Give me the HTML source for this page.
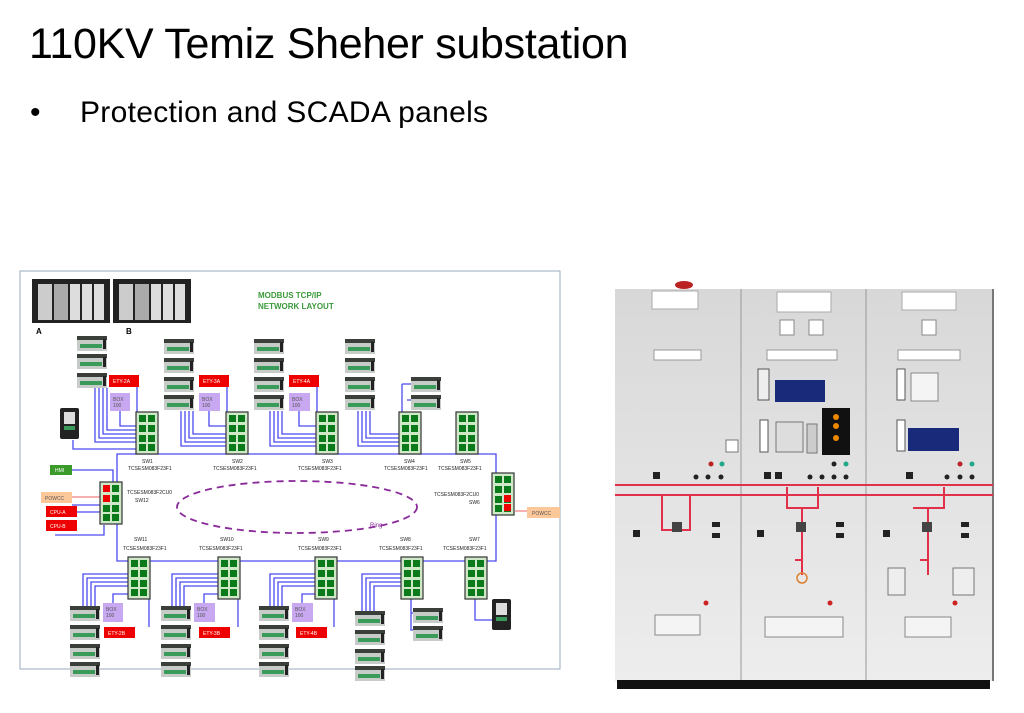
<!DOCTYPE html>
<html><head><meta charset="utf-8"><style>
html,body{margin:0;padding:0;background:#fff;width:1024px;height:713px;overflow:hidden}
.t{position:absolute;font-family:"Liberation Sans",sans-serif;color:#000;white-space:nowrap}
</style></head><body>
<div class="t" style="left:29px;top:20px;font-size:43px;letter-spacing:-0.3px">110KV Temiz Sheher substation</div>
<div class="t" style="left:30px;top:96px;font-size:30px">•</div>
<div class="t" style="left:80px;top:96px;font-size:30px;letter-spacing:0.3px">Protection and SCADA panels</div>
<svg style="position:absolute;left:0;top:0" width="1024" height="713" font-family="Liberation Sans, sans-serif">
<defs>
<linearGradient id="pg" x1="0" y1="0" x2="0" y2="1"><stop offset="0" stop-color="#d8d8d8"/><stop offset="1" stop-color="#ededed"/></linearGradient>
<g id="m"><rect x="0" y="0" width="30" height="15" fill="#c8ccc8"/><rect x="0" y="0" width="30" height="4" fill="#3a3f3a"/><rect x="3" y="8" width="22" height="4" fill="#3a9a5a"/><rect x="26" y="3" width="3" height="10" fill="#222"/></g>
<g id="sw"><rect x="0" y="0" width="22" height="42" fill="#cfe8c8" stroke="#333" stroke-width="1.2"/>
<rect x="3" y="3" width="7" height="7" fill="#0a7a1a"/><rect x="12" y="3" width="7" height="7" fill="#0a7a1a"/>
<rect x="3" y="13" width="7" height="7" fill="#0a7a1a"/><rect x="12" y="13" width="7" height="7" fill="#0a7a1a"/>
<rect x="3" y="23" width="7" height="7" fill="#0a7a1a"/><rect x="12" y="23" width="7" height="7" fill="#0a7a1a"/>
<rect x="3" y="32" width="7" height="7" fill="#0a7a1a"/><rect x="12" y="32" width="7" height="7" fill="#0a7a1a"/></g>
<g id="rack"><rect width="78" height="44" fill="#222"/><rect x="6" y="5" width="14" height="36" fill="#ccc"/><rect x="22" y="5" width="14" height="36" fill="#aaa"/><rect x="38" y="5" width="10" height="36" fill="#ddd"/><rect x="50" y="5" width="10" height="36" fill="#ddd"/><rect x="62" y="5" width="10" height="36" fill="#ddd"/></g>
<g id="drv"><rect width="19" height="31" rx="2" fill="#222"/><rect x="4" y="4" width="11" height="12" fill="#ddd"/><rect x="4" y="18" width="11" height="4" fill="#3a9a5a"/></g>
</defs>
<rect x="20" y="271" width="540" height="398" fill="#fff" stroke="#9ab" stroke-width="1"/>
<use href="#rack" x="32" y="279"/><use href="#rack" x="113" y="279"/>
<text x="258" y="298" font-size="8" font-weight="bold" fill="#3a9a3a">MODBUS TCP/IP</text>
<text x="258" y="309" font-size="8" font-weight="bold" fill="#3a9a3a">NETWORK LAYOUT</text>
<text x="36" y="334" font-size="8" font-weight="bold">A</text><text x="126" y="334" font-size="8" font-weight="bold">B</text>
<g stroke="#4a4af0" stroke-width="1.3" fill="none">
<path d="M117,454 H496 V561 H117 Z"/>
<path d="M95,388 V442 H136 M99,388 V438 H136 M103,388 V434 H136 M107,388 V430 H136 M73,440 V449 H136 M120,411 V426 H136 M137,387 V418"/>
<path d="M181,411 V446 H226 M185,411 V442 H226 M189,411 V438 H226 M193,411 V434 H226 M209,411 V426 H226 M227,387 V418"/>
<path d="M270,411 V446 H316 M274,411 V442 H316 M278,411 V438 H316 M282,411 V434 H316 M299,411 V426 H316 M317,387 V418"/>
<path d="M358,411 V446 H399 M362,411 V442 H399 M366,411 V438 H399 M370,411 V434 H399 M402,384 V418 M407,400 H411 M402,384 H411"/>
<path d="M72,470 H113 V482 M72,505 H100 M72,512 H100 M55,535 H104 V525"/>
<path d="M129,574 H83 V611 M129,578 H87 V611 M129,582 H91 V611 M129,586 H95 V611 M129,594 H113 V603 M149,590 V627"/>
<path d="M218,574 H172 V611 M218,578 H176 V611 M218,582 H180 V611 M218,586 H184 V611 M218,594 H204 V603 M238,590 V627"/>
<path d="M315,574 H270 V611 M315,578 H274 V611 M315,582 H278 V611 M315,586 H282 V611 M315,594 H302 V603 M334,590 V627"/>
<path d="M401,574 H362 V615 M401,578 H366 V615 M401,582 H370 V615 M401,586 H374 V615 M411,598 V630 H413 M411,613 H413"/>
<path d="M475,598 V620 H492"/>
</g>
<path d="M72,497 H100 M515,511 H527" stroke="#f08080" stroke-width="1.3"/>
<ellipse cx="297" cy="507" rx="120" ry="26" fill="none" stroke="#8a2a9a" stroke-width="1.8" stroke-dasharray="7,5"/>
<text x="370" y="527" font-size="6" fill="#8a2a9a">Ring</text>
<use href="#sw" x="136" y="412"/><use href="#sw" x="226" y="412"/><use href="#sw" x="316" y="412"/><use href="#sw" x="399" y="412"/><use href="#sw" x="456" y="412"/>
<use href="#sw" x="128" y="557"/><use href="#sw" x="218" y="557"/><use href="#sw" x="315" y="557"/><use href="#sw" x="401" y="557"/><use href="#sw" x="465" y="557"/>
<use href="#sw" x="100" y="482"/><use href="#sw" x="492" y="473"/>
<rect x="103" y="485" width="7" height="7" fill="#e00"/><rect x="103" y="495" width="7" height="7" fill="#e00"/>
<rect x="504" y="495" width="7" height="7" fill="#e00"/><rect x="504" y="504" width="7" height="7" fill="#e00"/>
<g font-size="5" fill="#222">
<text x="142" y="463">SW1</text><text x="128" y="470">TCSESM083F23F1</text>
<text x="232" y="463">SW2</text><text x="213" y="470">TCSESM083F23F1</text>
<text x="322" y="463">SW3</text><text x="298" y="470">TCSESM083F23F1</text>
<text x="404" y="463">SW4</text><text x="384" y="470">TCSESM083F23F1</text>
<text x="460" y="463">SW5</text><text x="438" y="470">TCSESM083F23F1</text>
<text x="127" y="494">TCSESM083F2CU0</text><text x="135" y="502">SW12</text>
<text x="434" y="496">TCSESM083F2CU0</text><text x="469" y="504">SW6</text>
<text x="134" y="541">SW11</text><text x="123" y="550">TCSESM083F23F1</text>
<text x="220" y="541">SW10</text><text x="199" y="550">TCSESM083F23F1</text>
<text x="318" y="541">SW9</text><text x="298" y="550">TCSESM083F23F1</text>
<text x="400" y="541">SW8</text><text x="379" y="550">TCSESM083F23F1</text>
<text x="469" y="541">SW7</text><text x="443" y="550">TCSESM083F23F1</text>
</g>
<g>
<use href="#m" x="77" y="336"/><use href="#m" x="77" y="354"/><use href="#m" x="77" y="373"/>
<use href="#m" x="164" y="339"/><use href="#m" x="164" y="358"/><use href="#m" x="164" y="377"/><use href="#m" x="164" y="395"/>
<use href="#m" x="254" y="339"/><use href="#m" x="254" y="358"/><use href="#m" x="254" y="377"/><use href="#m" x="254" y="395"/>
<use href="#m" x="345" y="339"/><use href="#m" x="345" y="358"/><use href="#m" x="345" y="377"/><use href="#m" x="345" y="395"/>
<use href="#m" x="411" y="377"/><use href="#m" x="411" y="395"/>
<use href="#m" x="70" y="606"/><use href="#m" x="70" y="625"/><use href="#m" x="70" y="644"/><use href="#m" x="70" y="662"/>
<use href="#m" x="161" y="606"/><use href="#m" x="161" y="625"/><use href="#m" x="161" y="644"/><use href="#m" x="161" y="662"/>
<use href="#m" x="259" y="606"/><use href="#m" x="259" y="625"/><use href="#m" x="259" y="644"/><use href="#m" x="259" y="662"/>
<use href="#m" x="355" y="611"/><use href="#m" x="355" y="630"/><use href="#m" x="355" y="649"/><use href="#m" x="355" y="666"/>
<use href="#m" x="413" y="608"/><use href="#m" x="413" y="626"/>
<use href="#drv" x="60" y="408"/><use href="#drv" x="492" y="599"/>
</g>
<g font-size="5" fill="#fff">
<rect x="109" y="375" width="30" height="12" fill="#e00"/><text x="113" y="383">ETY-2A</text>
<rect x="199" y="375" width="30" height="12" fill="#e00"/><text x="203" y="383">ETY-3A</text>
<rect x="289" y="375" width="30" height="12" fill="#e00"/><text x="293" y="383">ETY-4A</text>
<rect x="104" y="627" width="31" height="11" fill="#e00"/><text x="108" y="635">ETY-2B</text>
<rect x="199" y="627" width="31" height="11" fill="#e00"/><text x="203" y="635">ETY-3B</text>
<rect x="296" y="627" width="31" height="11" fill="#e00"/><text x="300" y="635">ETY-4B</text>
<rect x="46" y="506" width="31" height="11" fill="#e00"/><text x="50" y="514">CPU-A</text>
<rect x="46" y="520" width="31" height="11" fill="#e00"/><text x="50" y="528">CPU-B</text>
<rect x="50" y="465" width="22" height="10" fill="#3a9a2a"/><text x="55" y="472">HMI</text>
</g>
<g font-size="5" fill="#555">
<rect x="110" y="393" width="20" height="18" fill="#c8a8f0"/><text x="113" y="401">BOX</text><text x="113" y="407">100</text>
<rect x="199" y="393" width="21" height="18" fill="#c8a8f0"/><text x="202" y="401">BOX</text><text x="202" y="407">100</text>
<rect x="289" y="393" width="21" height="18" fill="#c8a8f0"/><text x="292" y="401">BOX</text><text x="292" y="407">100</text>
<rect x="103" y="603" width="20" height="19" fill="#c8a8f0"/><text x="106" y="611">BOX</text><text x="106" y="617">100</text>
<rect x="194" y="603" width="21" height="19" fill="#c8a8f0"/><text x="197" y="611">BOX</text><text x="197" y="617">100</text>
<rect x="292" y="603" width="21" height="19" fill="#c8a8f0"/><text x="295" y="611">BOX</text><text x="295" y="617">100</text>
<rect x="41" y="492" width="31" height="11" fill="#fcc89a"/><text x="45" y="500">POWCC</text>
<rect x="527" y="507" width="33" height="11" fill="#fcc89a"/><text x="532" y="515">POWCC</text>
</g>
<g>
<rect x="615" y="289" width="378" height="392" fill="url(#pg)"/>
<line x1="741" y1="289" x2="741" y2="681" stroke="#999"/><line x1="866" y1="289" x2="866" y2="681" stroke="#999"/>
<line x1="993" y1="289" x2="993" y2="681" stroke="#777" stroke-width="2"/>
<rect x="617" y="680" width="373" height="9" fill="#111"/>
<ellipse cx="684" cy="285" rx="9" ry="4" fill="#b22"/>
<rect x="652" y="291" width="46" height="18" fill="#fff" stroke="#aaa"/>
<rect x="777" y="292" width="54" height="20" fill="#fff" stroke="#aaa"/>
<rect x="902" y="292" width="54" height="18" fill="#fff" stroke="#aaa"/>
<rect x="654" y="350" width="47" height="10" fill="#fff" stroke="#999"/>
<rect x="767" y="350" width="70" height="10" fill="#fff" stroke="#999"/>
<rect x="898" y="350" width="62" height="10" fill="#fff" stroke="#999"/>
<rect x="780" y="320" width="14" height="15" fill="#fff" stroke="#888"/><rect x="809" y="320" width="14" height="15" fill="#fff" stroke="#888"/>
<rect x="922" y="320" width="14" height="15" fill="#fff" stroke="#888"/>
<rect x="758" y="369" width="11" height="31" fill="#eee" stroke="#555"/>
<rect x="775" y="380" width="50" height="22" fill="#1a2a7a"/>
<rect x="897" y="369" width="8" height="31" fill="#fff" stroke="#555"/>
<rect x="911" y="373" width="27" height="28" fill="#f4f4f4" stroke="#888"/>
<rect x="897" y="420" width="8" height="31" fill="#fff" stroke="#555"/>
<rect x="908" y="428" width="51" height="23" fill="#1a2a7a"/>
<rect x="760" y="420" width="8" height="32" fill="#fff" stroke="#555"/>
<rect x="776" y="422" width="27" height="30" fill="#ddd" stroke="#777"/>
<rect x="807" y="424" width="10" height="29" fill="#ccc" stroke="#777"/>
<rect x="822" y="408" width="28" height="47" fill="#111"/>
<circle cx="836" cy="417" r="3" fill="#e80"/><circle cx="836" cy="426" r="3" fill="#e80"/><circle cx="836" cy="438" r="3" fill="#e80"/>
<rect x="726" y="440" width="12" height="12" fill="#fff" stroke="#777"/>
<g fill="#222">
<circle cx="711" cy="464" r="2.5" fill="#b22"/><circle cx="722" cy="464" r="2.5" fill="#2a8"/>
<circle cx="696" cy="477" r="2.5"/><circle cx="708" cy="477" r="2.5"/><circle cx="721" cy="477" r="2.5"/>
<circle cx="834" cy="464" r="2.5"/><circle cx="846" cy="464" r="2.5" fill="#2a8"/>
<circle cx="810" cy="477" r="2.5"/><circle cx="822" cy="477" r="2.5"/><circle cx="834" cy="477" r="2.5"/><circle cx="846" cy="477" r="2.5"/>
<circle cx="960" cy="464" r="2.5" fill="#b22"/><circle cx="972" cy="464" r="2.5" fill="#2a8"/>
<circle cx="947" cy="477" r="2.5"/><circle cx="960" cy="477" r="2.5"/><circle cx="972" cy="477" r="2.5"/>
<rect x="653" y="472" width="7" height="7"/><rect x="764" y="472" width="7" height="7"/><rect x="775" y="472" width="7" height="7"/><rect x="906" y="472" width="7" height="7"/>
<rect x="633" y="530" width="7" height="7"/><rect x="757" y="530" width="7" height="7"/><rect x="883" y="530" width="7" height="7"/>
<rect x="712" y="522" width="8" height="5"/><rect x="712" y="533" width="8" height="5"/>
<rect x="836" y="522" width="8" height="5"/><rect x="836" y="533" width="8" height="5"/>
<rect x="961" y="522" width="8" height="5"/><rect x="961" y="533" width="8" height="5"/>
</g>
<g stroke="#e0304a" stroke-width="2" fill="none">
<line x1="615" y1="485" x2="993" y2="485"/><line x1="615" y1="495" x2="993" y2="495"/>
<path d="M662,495 V530 H690 V495"/>
<path d="M787,487 V508 H818 V487 M802,508 V560 H795 M802,560 V575"/>
<path d="M913,508 H944 V487 M928,508 V560 H920 M928,560 V575"/>
</g>
<circle cx="802" cy="578" r="5" fill="none" stroke="#e08030" stroke-width="1.5"/>
<rect x="672" y="522" width="10" height="10" fill="#444"/><rect x="796" y="522" width="10" height="10" fill="#444"/><rect x="922" y="522" width="10" height="10" fill="#444"/>
<rect x="888" y="568" width="17" height="27" fill="#eee" stroke="#777"/><rect x="953" y="568" width="21" height="27" fill="#eee" stroke="#777"/>
<circle cx="706" cy="603" r="2.5" fill="#c22"/><circle cx="830" cy="603" r="2.5" fill="#c22"/><circle cx="955" cy="603" r="2.5" fill="#c22"/>
<rect x="655" y="615" width="45" height="20" fill="#f4f4f4" stroke="#888"/>
<rect x="765" y="617" width="78" height="20" fill="#f4f4f4" stroke="#888"/>
<rect x="905" y="617" width="46" height="20" fill="#f4f4f4" stroke="#888"/>
</g>
</svg>
</body></html>
